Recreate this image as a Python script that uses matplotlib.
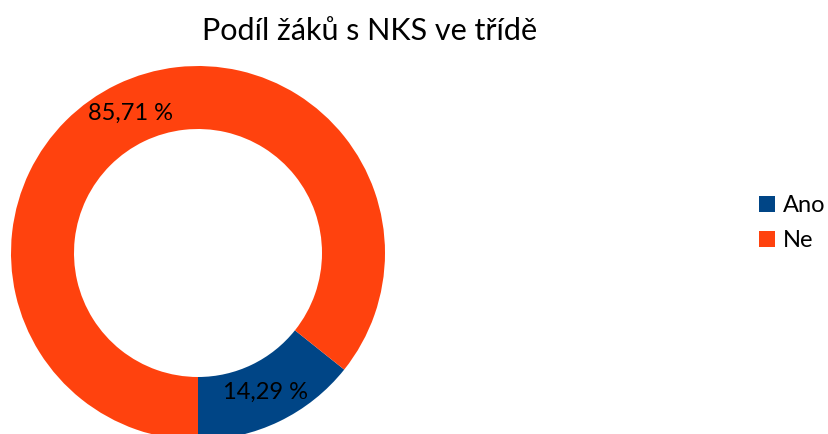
import matplotlib
matplotlib.use("Agg")
import matplotlib.pyplot as plt

categories = ["Ano", "Ne"]
values = [1, 6]
colors = ["#004586", "#FF420E"]
title = "Podíl žáků s NKS ve třídě"

plt.rcParams['font.family'] = ['Lato', 'DejaVu Sans']

W, H = 829, 434
fig = plt.figure(figsize=(W / 100, H / 100), dpi=100)
cx, cy, R = 198, 253, 187
ax = fig.add_axes([(cx - R) / W, (H - cy - R) / H, 2 * R / W, 2 * R / H])

def fmt(p):
    return f"{p:.2f} %".replace('.', ',')

wedges, texts, autotexts = ax.pie(
    values, colors=colors, startangle=-90, counterclock=True,
    radius=1, wedgeprops=dict(width=1 - 124 / 187, linewidth=0),
    autopct=fmt, pctdistance=0.83,
    textprops=dict(fontsize=17, color='black'))
ax.set_xlim(-1, 1)
ax.set_ylim(-1, 1)
ax.set_aspect('equal')
ax.axis('off')

fig.text(370 / W, 1 - 31 / H, title, ha='center', va='center', fontsize=22)

leg = fig.legend(wedges, categories, loc='center left',
                 bbox_to_anchor=(759 / W, 1 - 223 / H), frameon=False,
                 fontsize=17, handlelength=0.68, handleheight=0.68,
                 handletextpad=0.35, labelspacing=0.6, borderpad=0, borderaxespad=0)

fig.savefig("out.png", dpi=100)
